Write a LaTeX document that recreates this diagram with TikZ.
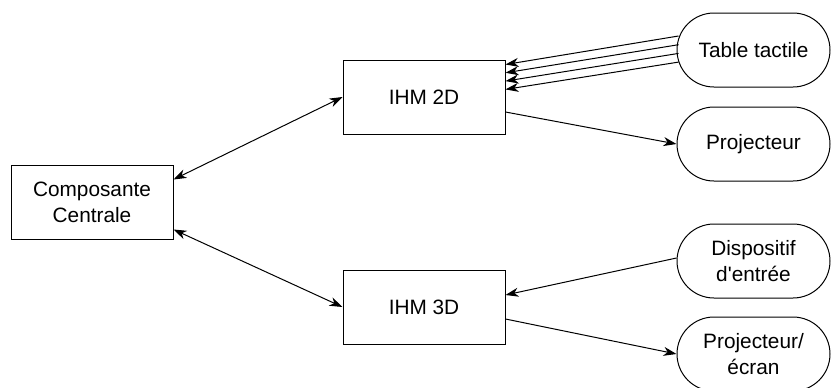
\documentclass[tikz,border=0pt]{standalone}
\usepackage{fontspec}
\setmainfont{Liberation Sans}[Ligatures=TeXOff]
\usetikzlibrary{shapes.misc, arrows.meta, calc}

\begin{document}
\begin{tikzpicture}[x=0.5pt,y=-0.5pt,
    box/.style={draw, line width=0.5pt, minimum width=81pt, minimum height=37pt,
      inner sep=0pt, align=center, font=\fontsize{10.4}{13}\selectfont},
    pill/.style={box, rounded rectangle, minimum width=76.5pt},
    link/.style={line width=0.5pt, -{Stealth[length=6.5pt,width=4.5pt,inset=2pt]}},
    both/.style={line width=0.5pt, {Stealth[length=6.5pt,width=4.5pt,inset=2pt]}-{Stealth[length=6.5pt,width=4.5pt,inset=2pt]}}]
    \useasboundingbox (0,0) rectangle (831,387);

    % central component and the two interfaces
    \node[box] (cc) at (92,202) {Composante\\Centrale};
    \node[box] (ihm2) at (424,97) {IHM 2D};
    \node[box] (ihm3) at (424,307) {IHM 3D};

    % devices
    \node[pill] (tab)  at (753.5,50)  {Table tactile};
    \node[pill] (proj) at (753.5,144) {Projecteur};
    \node[pill] (disp) at (753.5,261) {Dispositif\\d'entrée};
    \node[pill] (ecr)  at (753.5,354) {Projecteur/\\écran};

    \draw[both] ($(cc.north east)+(0,15)$) -- (ihm2.west);
    \draw[both] ($(cc.south east)+(0,-10)$) -- (ihm3.west);

    \foreach \i in {0,...,3}
        \draw[link] ($(tab.west)+(2,-14+8.7*\i)$) -- ($(ihm2.north east)+(0,5+8.3*\i)$);
    \draw[link] ($(ihm2.east)+(0,15)$) -- (proj.west);

    \draw[link] ($(disp.west)+(0,-3)$) -- ($(ihm3.east)+(0,-12)$);
    \draw[link] ($(ihm3.east)+(0,12)$) -- (ecr.west);
\end{tikzpicture}
\end{document}
